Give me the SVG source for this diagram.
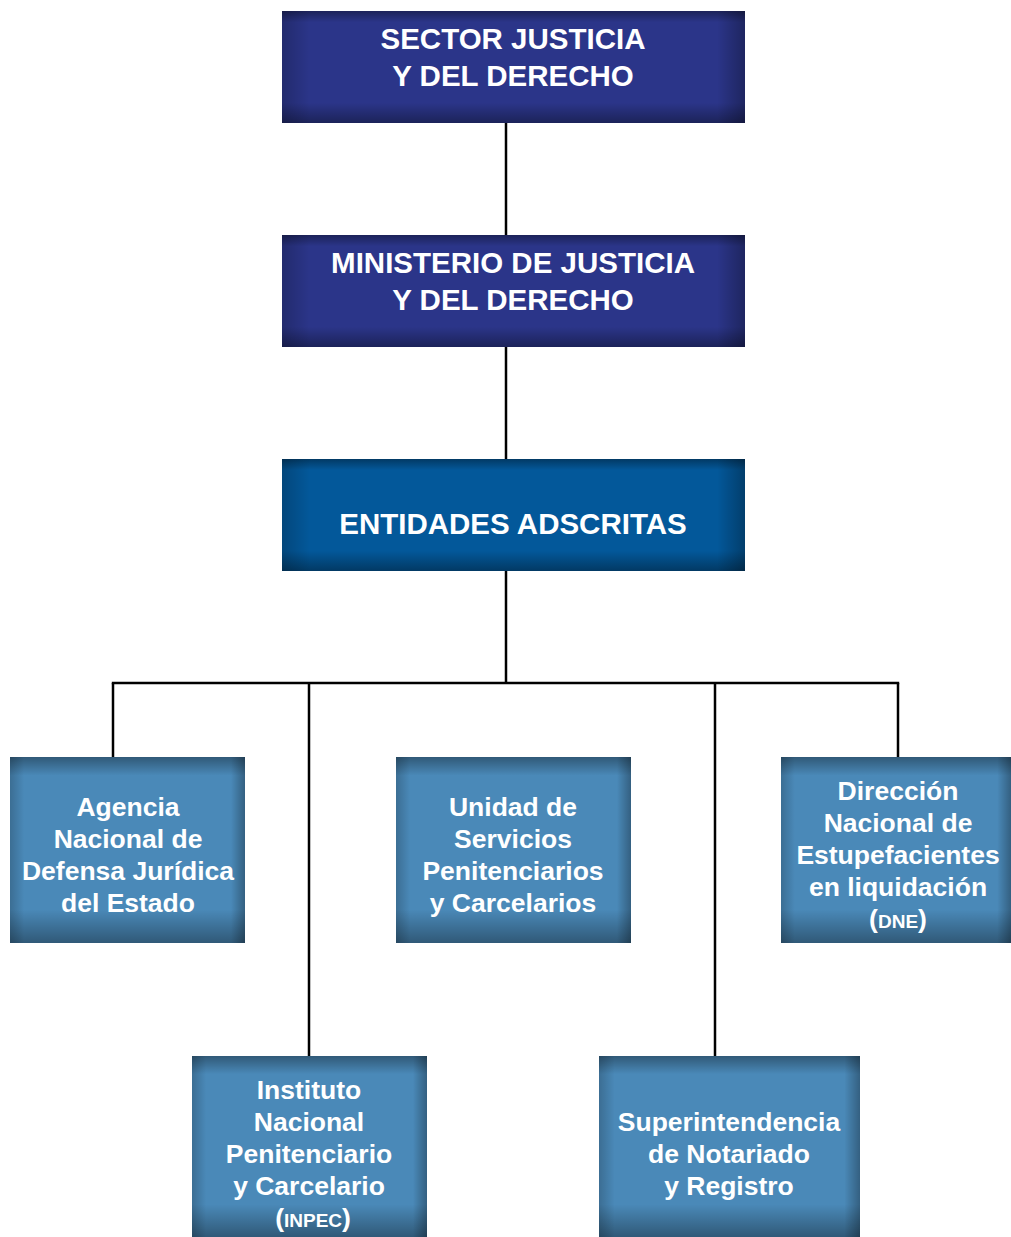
<svg xmlns="http://www.w3.org/2000/svg" width="1011" height="1237" viewBox="0 0 1011 1237">
<defs>
<linearGradient id="vshade" x1="0" y1="0" x2="0" y2="1">
<stop offset="0" stop-color="#000" stop-opacity="0.35"/>
<stop offset="0.1" stop-color="#000" stop-opacity="0"/>
<stop offset="0.82" stop-color="#000" stop-opacity="0"/>
<stop offset="1" stop-color="#000" stop-opacity="0.35"/>
</linearGradient>
<linearGradient id="hshade" x1="0" y1="0" x2="1" y2="0">
<stop offset="0" stop-color="#000" stop-opacity="0.2"/>
<stop offset="0.06" stop-color="#000" stop-opacity="0"/>
<stop offset="0.94" stop-color="#000" stop-opacity="0"/>
<stop offset="1" stop-color="#000" stop-opacity="0.3"/>
</linearGradient>
<style>
.t{font-family:"Liberation Sans",Arial,Helvetica,sans-serif;font-weight:bold;fill:#fff;text-anchor:middle}
.big{font-size:29.5px}
.sm{font-size:26.5px}
.cap{font-size:19px}
.navy{fill:#2b3589}
.blue{fill:#03589a}
.light{fill:#4a89b8}
.vs{fill:url(#vshade)}
.hs{fill:url(#hshade)}
.conn line{stroke:#000;stroke-width:2.5}
</style>
</defs>
<rect width="1011" height="1237" fill="#fff"/>
<g id="connectors" class="conn">
<line x1="506" y1="123" x2="506" y2="235"/>
<line x1="506" y1="347" x2="506" y2="459"/>
<line x1="506" y1="571" x2="506" y2="683"/>
<line x1="111.8" y1="683" x2="899.2" y2="683"/>
<line x1="113" y1="683" x2="113" y2="757"/>
<line x1="309" y1="683" x2="309" y2="1056"/>
<line x1="715" y1="683" x2="715" y2="1056"/>
<line x1="898" y1="683" x2="898" y2="757"/>
</g>
<g id="sector">
<rect class="navy" x="282" y="11" width="463" height="112"/>
<rect class="vs" x="282" y="11" width="463" height="112"/>
<rect class="hs" x="282" y="11" width="463" height="112"/>
<text class="t big" x="513" y="49">SECTOR JUSTICIA</text>
<text class="t big" x="513" y="86">Y DEL DERECHO</text>
</g>
<g id="ministerio">
<rect class="navy" x="282" y="235" width="463" height="112"/>
<rect class="vs" x="282" y="235" width="463" height="112"/>
<rect class="hs" x="282" y="235" width="463" height="112"/>
<text class="t big" x="513" y="273">MINISTERIO DE JUSTICIA</text>
<text class="t big" x="513" y="310">Y DEL DERECHO</text>
</g>
<g id="entidades">
<rect class="blue" x="282" y="459" width="463" height="112"/>
<rect class="vs" x="282" y="459" width="463" height="112"/>
<rect class="hs" x="282" y="459" width="463" height="112"/>
<text class="t big" x="513" y="534">ENTIDADES ADSCRITAS</text>
</g>
<g id="agencia">
<rect class="light" x="10" y="757" width="235" height="186"/>
<rect class="vs" x="10" y="757" width="235" height="186"/>
<rect class="hs" x="10" y="757" width="235" height="186"/>
<text class="t sm" x="128" y="816">Agencia</text>
<text class="t sm" x="128" y="848">Nacional de</text>
<text class="t sm" x="128" y="880">Defensa Jurídica</text>
<text class="t sm" x="128" y="912">del Estado</text>
</g>
<g id="unidad">
<rect class="light" x="396" y="757" width="235" height="186"/>
<rect class="vs" x="396" y="757" width="235" height="186"/>
<rect class="hs" x="396" y="757" width="235" height="186"/>
<text class="t sm" x="513" y="816">Unidad de</text>
<text class="t sm" x="513" y="848">Servicios</text>
<text class="t sm" x="513" y="880">Penitenciarios</text>
<text class="t sm" x="513" y="912">y Carcelarios</text>
</g>
<g id="direccion">
<rect class="light" x="781" y="757" width="230" height="186"/>
<rect class="vs" x="781" y="757" width="230" height="186"/>
<rect class="hs" x="781" y="757" width="230" height="186"/>
<text class="t sm" x="898" y="800">Dirección</text>
<text class="t sm" x="898" y="832">Nacional de</text>
<text class="t sm" x="898" y="864">Estupefacientes</text>
<text class="t sm" x="898" y="896">en liquidación</text>
<text class="t sm" x="898" y="928">(<tspan class="cap">DNE</tspan>)</text>
</g>
<g id="inpec">
<rect class="light" x="192" y="1056" width="235" height="181"/>
<rect class="vs" x="192" y="1056" width="235" height="181"/>
<rect class="hs" x="192" y="1056" width="235" height="181"/>
<text class="t sm" x="309" y="1099">Instituto</text>
<text class="t sm" x="309" y="1131">Nacional</text>
<text class="t sm" x="309" y="1163">Penitenciario</text>
<text class="t sm" x="309" y="1195">y Carcelario</text>
<text class="t sm" x="313" y="1227">(<tspan class="cap">INPEC</tspan>)</text>
</g>
<g id="superintendencia">
<rect class="light" x="599" y="1056" width="261" height="181"/>
<rect class="vs" x="599" y="1056" width="261" height="181"/>
<rect class="hs" x="599" y="1056" width="261" height="181"/>
<text class="t sm" x="729" y="1131">Superintendencia</text>
<text class="t sm" x="729" y="1163">de Notariado</text>
<text class="t sm" x="729" y="1195">y Registro</text>
</g>
</svg>
